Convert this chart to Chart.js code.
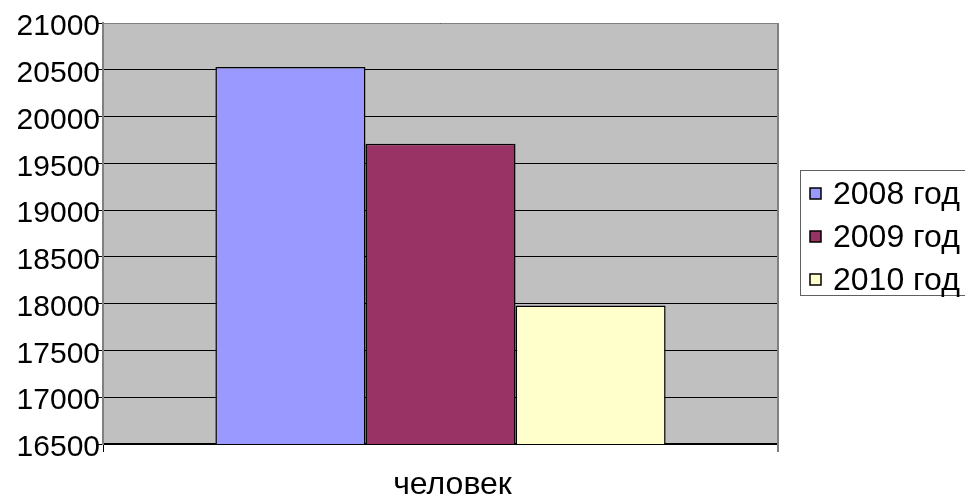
<!DOCTYPE html>
<html>
<head>
<meta charset="utf-8">
<script src="https://cdn.jsdelivr.net/npm/chart.js@4/dist/chart.umd.min.js"></script>
<style>
  html, body { margin: 0; padding: 0; background: #ffffff; overflow: hidden; }
  #wrap { width: 965px; height: 498px; overflow: hidden; }
</style>
</head>
<body>
<div id="wrap"><canvas id="chart" width="965" height="498"></canvas></div>
<script>
// Population by year
const categories = ['человек'];
const seriesNames = ['2008 год', '2009 год', '2010 год'];
const values2008 = [20530];
const values2009 = [19710];
const values2010 = [17980];
const yTicks = [16500, 17000, 17500, 18000, 18500, 19000, 19500, 20000, 20500, 21000];

const seriesColors = ['#9999FF', '#993366', '#FFFFCC'];
const FONT = "'Liberation Sans', Arial, sans-serif";

// Grey plot background and plot-area frame
const plotFrame = {
  id: 'plotFrame',
  beforeDraw(chart) {
    const { ctx, chartArea: a } = chart;
    ctx.save();
    ctx.fillStyle = '#C0C0C0';
    ctx.fillRect(a.left, a.top, a.right - a.left, a.bottom - a.top);
    ctx.restore();
  },
  afterDraw(chart) {
    const { ctx, chartArea: a } = chart;
    ctx.save();
    ctx.strokeStyle = '#808080';
    ctx.lineWidth = 1;
    ctx.beginPath();
    ctx.moveTo(a.left, a.top + 0.5);
    ctx.lineTo(a.right, a.top + 0.5);
    ctx.stroke();
    ctx.lineWidth = 2;
    ctx.beginPath();
    ctx.moveTo(a.right, a.top);
    ctx.lineTo(a.right, a.bottom + 8);
    ctx.stroke();
    ctx.restore();
  }
};

// Boxed legend to the right of the plot
const sideLegend = {
  id: 'sideLegend',
  afterDraw(chart) {
    const { ctx } = chart;
    const boxX = 800.5, boxY = 170.5, boxW = 400, boxH = 125;
    ctx.save();
    ctx.strokeStyle = '#606060';
    ctx.lineWidth = 1;
    ctx.strokeRect(boxX, boxY, boxW, boxH);
    const rows = [194, 237, 280];
    ctx.font = '32px ' + FONT;
    ctx.textBaseline = 'middle';
    ctx.textAlign = 'left';
    chart.data.datasets.forEach((ds, i) => {
      const cy = rows[i];
      ctx.fillStyle = ds.backgroundColor;
      ctx.fillRect(810, cy - 6, 11, 11);
      ctx.strokeStyle = '#000000';
      ctx.lineWidth = 1.5;
      ctx.strokeRect(810, cy - 6, 11, 11);
      ctx.fillStyle = '#000000';
      ctx.fillText(ds.label, 833, cy + 1);
    });
    ctx.restore();
  }
};

const makeDataset = (i, values) => ({
  label: seriesNames[i],
  data: values,
  backgroundColor: seriesColors[i],
  borderColor: '#000000',
  borderWidth: 1.5,
  borderSkipped: false,
  barPercentage: 1.0,
  categoryPercentage: 0.667
});

new Chart(document.getElementById('chart'), {
  type: 'bar',
  data: {
    labels: categories,
    datasets: [
      makeDataset(0, values2008),
      makeDataset(1, values2009),
      makeDataset(2, values2010)
    ]
  },
  options: {
    responsive: false,
    devicePixelRatio: 1,
    animation: false,
    layout: { padding: { left: 0, top: 23, right: 187, bottom: 0 } },
    plugins: {
      legend: { display: false },
      tooltip: { enabled: false }
    },
    scales: {
      x: {
        grid: {
          offset: true,
          drawOnChartArea: false,
          drawTicks: true,
          tickLength: 8,
          color: '#000000'
        },
        border: { display: true, color: '#000000', width: 1.5 },
        ticks: {
          color: '#000000',
          font: { family: FONT, size: 32 },
          padding: 14,
          labelOffset: 12
        },
        afterFit(scale) { scale.height = 54; }
      },
      y: {
        min: yTicks[0],
        max: yTicks[yTicks.length - 1],
        afterBuildTicks(scale) { scale.ticks = yTicks.map(v => ({ value: v })); },
        grid: {
          color: '#000000',
          lineWidth: 1,
          drawTicks: true,
          tickLength: 6
        },
        border: { display: true, color: '#808080', width: 2 },
        ticks: {
          color: '#000000',
          font: { family: FONT, size: 30 },
          padding: -3,
          labelOffset: 4,
          callback: v => String(v)
        },
        afterFit(scale) { scale.width = 103; }
      }
    }
  },
  plugins: [plotFrame, sideLegend]
});
</script>
</body>
</html>
